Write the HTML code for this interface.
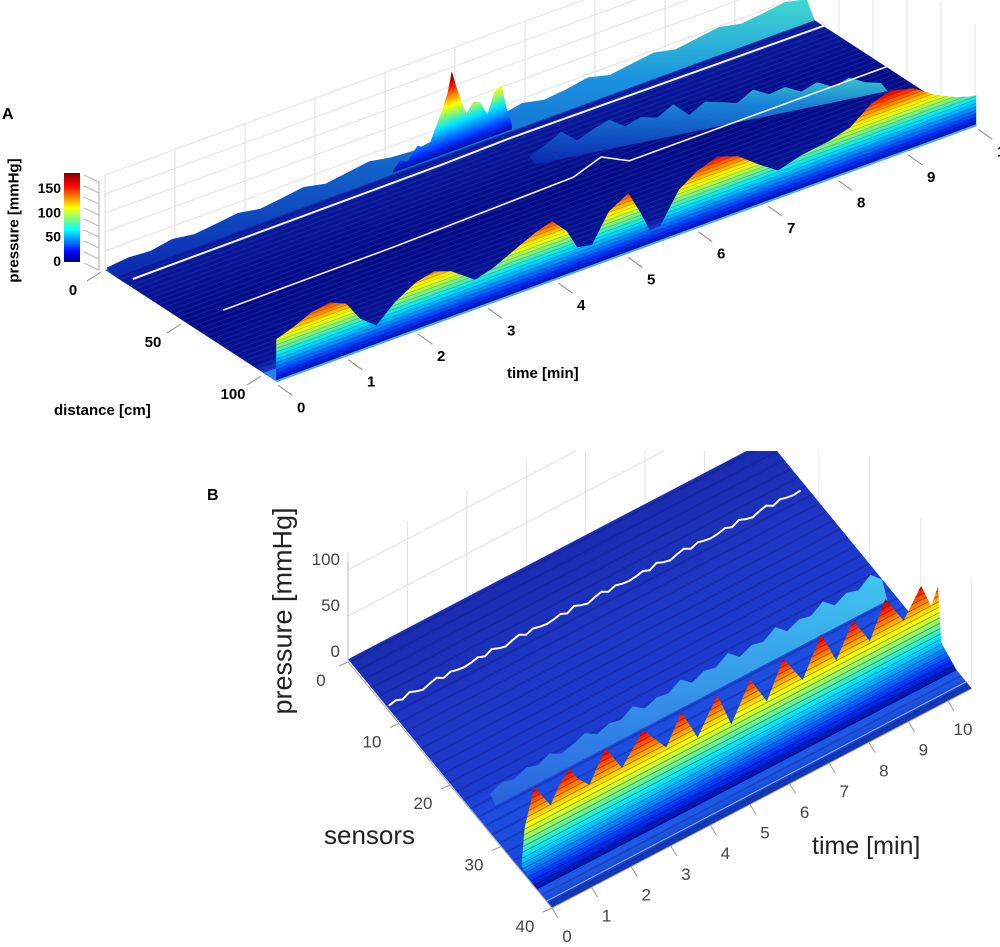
<!DOCTYPE html>
<html><head><meta charset="utf-8"><style>
html,body{margin:0;padding:0;background:#fff;}
svg{display:block;font-family:"Liberation Sans",Arial,sans-serif;}
</style></head><body>
<svg id="chart" xmlns="http://www.w3.org/2000/svg" width="1000" height="947" viewBox="0 0 1000 947">
<defs id="defs">
<linearGradient id="cbar" x1="0" y1="1" x2="0" y2="0">
<stop offset="0" stop-color="#00007f"/><stop offset="0.11" stop-color="#0000ff"/><stop offset="0.36" stop-color="#00ffff"/><stop offset="0.61" stop-color="#ffff00"/><stop offset="0.86" stop-color="#ff0000"/><stop offset="1" stop-color="#7f0000"/>
</linearGradient>
<linearGradient id="gSurfA" gradientUnits="userSpaceOnUse" x1="0" y1="0" x2="0" y2="107" gradientTransform="matrix(70,-25.6,1.6,1.04,105,270)">
<stop offset="0" stop-color="#1a5ad8"/><stop offset="0.07" stop-color="#0a1a9a"/><stop offset="0.5" stop-color="#050a84"/><stop offset="0.86" stop-color="#0a1494"/><stop offset="0.93" stop-color="#1640c8"/><stop offset="1" stop-color="#2a78f0"/>
</linearGradient>
<linearGradient id="gSurfB" gradientUnits="userSpaceOnUse" x1="0" y1="0" x2="0" y2="40" gradientTransform="matrix(39.6,-20.7,5.1,6.15,348,662)">
<stop offset="0" stop-color="#1a2cb0"/><stop offset="0.3" stop-color="#1e36c4"/><stop offset="0.55" stop-color="#1c3bd0"/><stop offset="0.65" stop-color="#1d4ee0"/><stop offset="0.85" stop-color="#1848e0"/><stop offset="0.95" stop-color="#1e5ae8"/><stop offset="1" stop-color="#1030b0"/>
</linearGradient>
<linearGradient id="cyanStrip" x1="0" y1="0" x2="0" y2="1">
<stop offset="0" stop-color="#40d8d0"/><stop offset="0.3" stop-color="#1a90e0"/><stop offset="1" stop-color="#0a28b0"/>
</linearGradient>
<linearGradient id="cyanStripB" x1="0" y1="0" x2="0" y2="1">
<stop offset="0" stop-color="#40c8f0"/><stop offset="1" stop-color="#2a62e0"/>
</linearGradient>
<pattern id="rowsA" patternUnits="userSpaceOnUse" width="1" height="3" patternTransform="matrix(70,-25.6,1.6,1.04,105,270)"><rect x="0" y="0" width="1" height="0.6" fill="#2040c0" opacity="0.45"/></pattern>
<pattern id="rowsB" patternUnits="userSpaceOnUse" width="1" height="1.4" patternTransform="matrix(39.6,-20.7,5.1,6.15,348,662)"><rect x="0" y="0" width="1" height="0.25" fill="#0a1a80" opacity="0.35"/></pattern>
<pattern id="contA" patternUnits="userSpaceOnUse" width="1" height="9" patternTransform="matrix(70,-25.6,0,-0.4,276.2,381.3)"><rect x="0" y="0" width="1" height="2.2" fill="#000" opacity="0.22"/></pattern>
<pattern id="contB" patternUnits="userSpaceOnUse" width="1" height="6" patternTransform="matrix(39.6,-20.7,0,-0.92,536.7,889.6)"><rect x="0" y="0" width="1" height="0.9" fill="#000" opacity="0.45"/></pattern>
<clipPath id="clipB"><rect x="0" y="451" width="1000" height="500"/></clipPath>
</defs>
<g id="panelA"></g>
<g id="panelB" clip-path="url(#clipB)"></g>
<g id="labels"></g>
</svg>
<script>
// ---- Panel A data (front row pressure, mmHg) ----
const aTimes=[0,0.25,0.5,0.77,1.0,1.2,1.43,1.7,2.0,2.26,2.5,2.84,3.1,3.4,3.7,3.94,4.15,4.3,4.51,4.75,5.03,5.2,5.34,5.49,5.75,6.0,6.3,6.6,6.9,7.17,7.5,7.9,8.2,8.5,8.77,9.1,9.4,9.7,9.9,10];
const aPressure=[105,120,140,148,130,80,48,90,120,130,115,72,85,110,135,148,110,60,52,120,148,90,35,38,110,140,158,140,100,68,85,95,110,150,165,150,115,90,78,75];
const spikeTimes=[4.0,4.1,4.2,4.35,4.5,4.6,4.7,4.78,4.84,4.9,4.97,5.05,5.15,5.25,5.35,5.45,5.55,5.62,5.7];
const spikePressure=[5,25,15,45,30,70,110,150,200,160,120,80,105,95,60,110,120,60,10];
const backZ=[8,14,10,20,12,18,25,15,22,30,18,26,34,24,20,28,36,26,30,40,28,34,44,30,38,46,34,42,50,38,44,52,40];
const midZ=[10,30,55,25,45,60,35,50,40,65,30,55,45,35,60,40,50,30,45,25,40,20,10];
const aTimeTicks=[0,1,2,3,4,5,6,7,8,9,10];
const aTimeLabels=["0","1","2","3","4","5","6","7","8","9","1"];
const aDistTicks=[0,50,100];
const aCbarTicks=[0,50,100,150];
// ---- Panel B data (sensor ~34 pressure, mmHg) ----
const bTimes=[0,0.08,0.32,0.74,0.95,1.21,1.43,1.72,2.12,2.54,3.07,3.66,4.04,4.45,4.95,5.3,5.78,6.2,6.61,7.1,7.57,7.95,8.37,8.8,9.19,9.65,10.09,10.35,10.52,10.6];
const bPressure=[5,45,84,55,72,84,68,55,86,55,84,52,82,45,80,40,78,45,82,48,87,50,84,52,89,55,83,55,73,10];
const stripB=[6,12,8,14,10,16,9,13,18,10,15,12,20,11,16,14,22,12,18,15,24,13,19,16,25,14,20,17,26,15,22,18,28,16];
const bTimeTicks=[0,1,2,3,4,5,6,7,8,9,10];
const bSensorTicks=[0,10,20,30,40];
const bPressTicks=[0,50,100];

const NS='http://www.w3.org/2000/svg';
function mk(tag,parent){const e=document.createElementNS(NS,tag);parent.appendChild(e);return e;}
function pA(t,d,z){return [105+70*t+1.6*d,270-25.6*t+1.04*d-0.4*(z||0)];}
function pB(t,s,z){return [348+39.6*t+5.1*s,662-20.7*t+6.15*s-0.92*(z||0)];}
function poly(pts){return 'M'+pts.map(p=>p[0].toFixed(1)+','+p[1].toFixed(1)).join('L')+'Z';}
function line(pts){return 'M'+pts.map(p=>p[0].toFixed(1)+','+p[1].toFixed(1)).join('L');}
const defs=document.getElementById('defs');
function jet(id,m,zmax){
  const g=mk('linearGradient',defs);
  g.setAttribute('id',id);g.setAttribute('gradientUnits','userSpaceOnUse');
  g.setAttribute('x1',0);g.setAttribute('y1',0);g.setAttribute('x2',0);g.setAttribute('y2',zmax);
  g.setAttribute('gradientTransform','matrix('+m.join(',')+')');
  [[0,'#0010a0'],[0.11,'#0030ff'],[0.36,'#00e8ff'],[0.61,'#ffff00'],[0.86,'#ff1000'],[1,'#7f0000']].forEach(s=>{const st=mk('stop',g);st.setAttribute('offset',s[0]);st.setAttribute('stop-color',s[1]);});
}
jet('jetA',[70,-25.6,0,-0.4,276.2,381.3],180);
jet('jetSpike',[70,-25.6,0,-0.4,113,275.2],190);
jet('jetB',[39.6,-20.7,0,-0.92,536.7,889.6],125);

// ================= PANEL A =================
const A=document.getElementById('panelA');
for(let t=0;t<=10;t++){
  const p=pA(t,0);const v=mk('path',A);
  v.setAttribute('d',line([[p[0],p[1]],[p[0],p[1]-95]]));
  v.setAttribute('stroke','#dcdcdc');v.setAttribute('stroke-width','1');v.setAttribute('fill','none');
  
  
}
for(let k=1;k<=5;k++){
  const a=pA(0,0),b=pA(10,0);const h=mk('path',A);
  h.setAttribute('d',line([[a[0],a[1]-k*19],[b[0],b[1]-k*19]]));
  h.setAttribute('stroke','#e2e2e2');h.setAttribute('stroke-width','1');h.setAttribute('fill','none');
  
  
}
{const b=pA(10,0);for(let k=0;k<=5;k++){const l=mk('path',A);
  l.setAttribute('d',line([[b[0]+k*34,b[1]+k*22],[b[0]+k*34,b[1]+k*22-100]]));
  l.setAttribute('stroke','#e4e4e4');l.setAttribute('fill','none');
  
  }}
const sA=mk('path',A);
sA.setAttribute('d',poly([pA(0,0),pA(10,0),pA(10,107),pA(0,107)]));
sA.setAttribute('fill','url(#gSurfA)');


const rA=mk('path',A);
rA.setAttribute('d',poly([pA(0,6),pA(10,6),pA(10,100),pA(0,100)]));
rA.setAttribute('fill','url(#rowsA)');


{const n=backZ.length;const top=backZ.map((z,i)=>pA(i*10/(n-1),1,z));
 const pts=[pA(0,6)].concat(top).concat([pA(10,6)]);
 const e=mk('path',A);e.setAttribute('d',poly(pts));e.setAttribute('fill','url(#cyanStrip)');
 
 }
{const n=midZ.length;const top=midZ.map((z,i)=>{const f=i/(n-1);return pA(5.42+f*4.25,28+f*34,z);});
 const pts=[pA(5.42,32)].concat(top).concat([pA(9.67,66)]);
 const e=mk('path',A);e.setAttribute('d',poly(pts));e.setAttribute('fill','url(#cyanStrip)');e.setAttribute('opacity','0.9');
 
 }
{const l1=mk('path',A);l1.setAttribute('d',line([pA(0.1,13,5),pA(4.5,13,8),pA(5.5,13,12),pA(10,13,6)]));
 l1.setAttribute('stroke','#f4f4f4');l1.setAttribute('stroke-width','2');l1.setAttribute('fill','none');
 
 
 const l2=mk('path',A);l2.setAttribute('d',line([pA(0.5,52,3),pA(3,52,5),pA(5.5,52,15),pA(5.9,52,40),pA(6.3,52,5),pA(10,52,5)]));
 l2.setAttribute('stroke','#f0f0f0');l2.setAttribute('stroke-width','1.6');l2.setAttribute('fill','none');
 
 }
{const top=spikeTimes.map((t,i)=>pA(t,5,spikePressure[i]));
 const pts=[pA(spikeTimes[0],5)].concat(top).concat([pA(spikeTimes[spikeTimes.length-1],5)]);
 const e=mk('path',A);e.setAttribute('d',poly(pts));e.setAttribute('fill','url(#jetSpike)');
 
 }
{const e=mk('path',A);e.setAttribute('d',poly([pA(5.75,0,35),pA(5.3,80,35),pA(5.45,80,0),pA(5.9,0,0)]));
 e.setAttribute('fill','#2ab8e8');e.setAttribute('opacity','0.85');
 
 }
{const e=mk('path',A);e.setAttribute('d',poly([pA(0,99),pA(10,99),pA(10,107),pA(0,107)]));
 e.setAttribute('fill','#2a7ff0');
 
 }
{const top=aTimes.map((t,i)=>pA(t,107,aPressure[i]));
 const pts=[pA(aTimes[0],107)].concat(top).concat([pA(aTimes[aTimes.length-1],107)]);
 const e=mk('path',A);e.setAttribute('d',poly(pts));e.setAttribute('fill','url(#jetA)');
 
 
 const c=mk('path',A);c.setAttribute('d',poly(pts));c.setAttribute('fill','url(#contA)');
 
 
 const fl=mk('path',A);fl.setAttribute('d',line([pA(0,107),pA(10,107)]));fl.setAttribute('stroke','#4aa8ff');fl.setAttribute('stroke-width','2');
 
 }
{const z=mk('path',A);z.setAttribute('d','M99,182L99,270');z.setAttribute('stroke','#aaa');z.setAttribute('fill','none');
 
 
 for(let k=0;k<9;k++){const t=mk('path',A);const y=182+k*11;t.setAttribute('d','M84,'+(y-7)+'L99,'+y);t.setAttribute('stroke','#bbb');
 
 }}
{const cb=mk('rect',A);cb.setAttribute('x',64);cb.setAttribute('y',173);cb.setAttribute('width',16);cb.setAttribute('height',89);cb.setAttribute('fill','url(#cbar)');
 
 
 aCbarTicks.forEach(v=>{const t=mk('text',A);t.textContent=String(v);t.setAttribute('x',61);t.setAttribute('y',(261-v*0.487+5).toFixed(1));
 t.setAttribute('text-anchor','end');t.setAttribute('font-size','14');t.setAttribute('font-weight','bold');
 
 });}
aTimeTicks.forEach((v,i)=>{const p=pA(v,107);
 const tk=mk('path',A);tk.setAttribute('d',line([[p[0]+2,p[1]+4],[p[0]+16,p[1]+14]]));tk.setAttribute('stroke','#888');
 
 
 const t=mk('text',A);t.textContent=aTimeLabels[i];t.setAttribute('x',(p[0]+25).toFixed(1));t.setAttribute('y',(p[1]+31).toFixed(1));
 t.setAttribute('text-anchor','middle');t.setAttribute('font-size','15');t.setAttribute('font-weight','bold');
 
 });
aDistTicks.forEach(v=>{const p=pA(0,v);
 const tk=mk('path',A);tk.setAttribute('d',line([[p[0]-4,p[1]+2],[p[0]-18,p[1]+11]]));tk.setAttribute('stroke','#888');
 
 
 const t=mk('text',A);t.textContent=String(v);t.setAttribute('x',(p[0]-32).toFixed(1));t.setAttribute('y',(p[1]+25).toFixed(1));
 t.setAttribute('text-anchor','middle');t.setAttribute('font-size','15');t.setAttribute('font-weight','bold');
 
 });

// ================= PANEL B =================
const B=document.getElementById('panelB');
for(let t=0;t<=10;t+=1.5){const p=pB(t,0);const v=mk('path',B);
 v.setAttribute('d',line([[p[0],p[1]],[p[0],p[1]-110]]));v.setAttribute('stroke','#e0e0e0');v.setAttribute('fill','none');
 
 }
bPressTicks.forEach(z=>{const a=pB(0,0,z),b=pB(10.6,0,z);const h=mk('path',B);
 h.setAttribute('d',line([a,b]));h.setAttribute('stroke','#e0e0e0');h.setAttribute('fill','none');
 
 });
for(let s=0;s<=40;s+=10){const p=pB(10.6,s);const v=mk('path',B);
 v.setAttribute('d',line([[p[0],p[1]],[p[0],p[1]-110]]));v.setAttribute('stroke','#e4e4e4');v.setAttribute('fill','none');
 
 }
{const s=mk('path',B);s.setAttribute('d',poly([pB(0,0,3),pB(10.6,0,3),pB(10.6,40),pB(0,40)]));s.setAttribute('fill','url(#gSurfB)');
 
 
 const r=mk('path',B);r.setAttribute('d',poly([pB(0,0,3),pB(10.6,0,3),pB(10.6,40),pB(0,40)]));r.setAttribute('fill','url(#rowsB)');
 
 }
{const wig=[0,2,-1,3,0,-2,1,3,-1,2,0,-1];const pts=[];for(let i=0;i<=60;i++){const t=i*10.4/60;pts.push(pB(t,8,6+wig[i%wig.length]));}
 const w=mk('path',B);w.setAttribute('d',line(pts));w.setAttribute('stroke','#ffffff');w.setAttribute('stroke-width','2');w.setAttribute('fill','none');
 
 }
{const n=stripB.length;const top=stripB.map((z,i)=>pB(0.5+i*9.9/(n-1),24,z));
 const pts=[pB(0.5,25)].concat(top).concat([pB(10.4,25)]);
 const e=mk('path',B);e.setAttribute('d',poly(pts));e.setAttribute('fill','url(#cyanStripB)');
 
 }
// humps B: crest at sensor 34, sloping to base at sensor 37
{const top=bTimes.map((t,i)=>pB(t,34,bPressure[i]));
 const pts=[pB(bTimes[0],37)].concat(top).concat([pB(bTimes[bTimes.length-1],37)]);
 const e=mk('path',B);e.setAttribute('d',poly(pts));e.setAttribute('fill','url(#jetB)');
 
 
 const c=mk('path',B);c.setAttribute('d',poly(pts));c.setAttribute('fill','url(#contB)');
 
 }
{const f=mk('path',B);f.setAttribute('d',line([pB(0,39,1),pB(10.6,39,1)]));f.setAttribute('stroke','#8fb0ff');f.setAttribute('stroke-width','1');
 
 }

const L=document.getElementById('labels');
{const z=mk('path',L);z.setAttribute('d',line([pB(0,0,0),pB(0,0,110)]));z.setAttribute('stroke','#bbb');
 
 
 const sa=mk('path',L);sa.setAttribute('d',line([pB(0,0),pB(0,40)]));sa.setAttribute('stroke','#aaa');
 
 
 const ta=mk('path',L);ta.setAttribute('d',line([pB(0,40),pB(10.6,40)]));ta.setAttribute('stroke','#aaa');
 
 }
bPressTicks.forEach(v=>{const p=pB(0,0,v);const t=mk('text',L);t.textContent=String(v);
 t.setAttribute('x',(p[0]-8).toFixed(1));t.setAttribute('y',(p[1]-5).toFixed(1));t.setAttribute('text-anchor','end');t.setAttribute('font-size','17');t.setAttribute('fill','#444');
 
 });
bSensorTicks.forEach(v=>{const p=pB(0,v);
 const tk=mk('path',L);tk.setAttribute('d',line([[p[0],p[1]],[p[0]-9,p[1]+4]]));tk.setAttribute('stroke','#999');
 
 
 const t=mk('text',L);t.textContent=String(v);
 t.setAttribute('x',(p[0]-27).toFixed(1));t.setAttribute('y',(p[1]+24).toFixed(1));t.setAttribute('text-anchor','middle');t.setAttribute('font-size','17');t.setAttribute('fill','#444');
 
 });
bTimeTicks.forEach(v=>{const p=pB(v,40);
 const tk=mk('path',L);tk.setAttribute('d',line([[p[0],p[1]],[p[0]+6,p[1]+10]]));tk.setAttribute('stroke','#999');
 
 
 const t=mk('text',L);t.textContent=String(v);
 t.setAttribute('x',(p[0]+15).toFixed(1));t.setAttribute('y',(p[1]+34).toFixed(1));t.setAttribute('text-anchor','middle');t.setAttribute('font-size','17');t.setAttribute('fill','#444');
 
 });
</script>
<div style="position:absolute;left:0;top:0;width:1000px;height:947px;pointer-events:none;font-family:'Liberation Sans',Arial,sans-serif;">
<div style="position:absolute;left:2px;top:106px;font-size:16px;font-weight:bold;">A</div>
<div style="position:absolute;left:-56px;top:212px;width:140px;text-align:center;font-size:15px;font-weight:bold;transform:rotate(-90deg);">pressure [mmHg]</div>
<div style="position:absolute;left:54px;top:402px;font-size:15px;font-weight:bold;">distance [cm]</div>
<div style="position:absolute;left:507px;top:365px;font-size:15px;font-weight:bold;">time [min]</div>
<div style="position:absolute;left:207px;top:487px;font-size:16px;font-weight:bold;">B</div>
<div style="position:absolute;left:183px;top:599px;width:200px;text-align:center;font-size:27px;color:#222;transform:rotate(-90deg);white-space:nowrap;">pressure [mmHg]</div>
<div style="position:absolute;left:324px;top:820px;font-size:26px;color:#222;">sensors</div>
<div style="position:absolute;left:812px;top:832px;font-size:25px;color:#222;white-space:nowrap;">time [min]</div>
</div>
</body></html>
